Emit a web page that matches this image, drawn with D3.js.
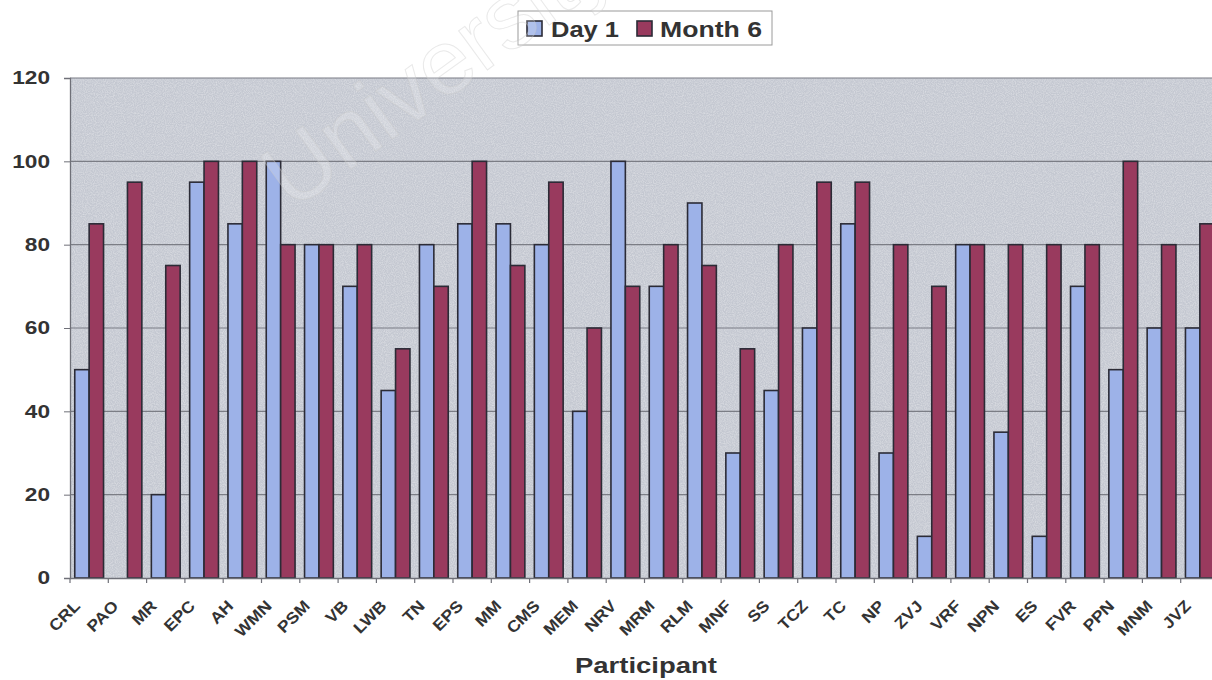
<!DOCTYPE html>
<html>
<head>
<meta charset="utf-8">
<script src="https://cdn.jsdelivr.net/npm/d3@7"></script>
<style>
  html, body { margin: 0; padding: 0; background: #fff; }
  svg { display: block; font-family: "Liberation Sans", Arial, sans-serif; }
</style>
</head>
<body>
<svg id="chart" width="1212" height="680"></svg>
<script>
// Participants and their scores on day 1 and at month 6
const participants = ["CRL","PAO","MR","EPC","AH","WMN","PSM","VB","LWB","TN","EPS","MM","CMS","MEM","NRV","MRM","RLM","MNF","SS","TCZ","TC","NP","ZVJ","VRF","NPN","ES","FVR","PPN","MNM","JVZ"];
const day1   = [50, 0, 20, 95, 85, 100, 80, 70, 45, 80, 85, 85, 80, 40, 100, 70, 90, 30, 45, 60, 85, 30, 10, 80, 35, 10, 70, 50, 60, 60];
const month6 = [85, 95, 75, 100, 100, 80, 80, 80, 55, 70, 100, 75, 95, 60, 70, 80, 75, 55, 80, 95, 95, 80, 70, 80, 80, 80, 80, 100, 80, 85];
const seriesNames = ["Day 1", "Month 6"];
const yTicks = [0, 20, 40, 60, 80, 100, 120];

const colors = { "Day 1": "#9db2e8", "Month 6": "#993a5e" };
const textColor = "#333";

// Widen bold labels horizontally (the chart's lettering is set wide)
function widen(sel, k) {
  sel.each(function() {
    const w = this.getComputedTextLength();
    d3.select(this).attr("textLength", w * k).attr("lengthAdjust", "spacingAndGlyphs");
  });
}

const svg = d3.select("#chart");
const plot = { left: 70, top: 78, bottom: 578, catWidth: 38.3 };
plot.right = plot.left + plot.catWidth * participants.length;

const x = d3.scaleBand().domain(participants).range([plot.left, plot.right]).paddingInner(0).paddingOuter(0);
const xSeries = d3.scaleBand().domain(seriesNames).range([0, x.bandwidth()]).paddingInner(0).paddingOuter(0.33);
const y = d3.scaleLinear().domain([0, 120]).range([plot.bottom, plot.top]);

// Textured grey plot background
const defs = svg.append("defs");
const filt = defs.append("filter").attr("id", "grain").attr("x", 0).attr("y", 0).attr("width", 1).attr("height", 1);
filt.append("feTurbulence").attr("type", "fractalNoise").attr("baseFrequency", 0.9).attr("numOctaves", 2).attr("seed", 3).attr("result", "noise");
filt.append("feColorMatrix").attr("in", "noise").attr("type", "matrix")
  .attr("values", "0 0 0 0 1  0 0 0 0 1  0 0 0 0 1  0 0 0 0.6 -0.2").attr("result", "specks");
filt.append("feComposite").attr("in", "specks").attr("in2", "SourceGraphic").attr("operator", "in").attr("result", "sp2");
const merge = filt.append("feMerge");
merge.append("feMergeNode").attr("in", "SourceGraphic");
merge.append("feMergeNode").attr("in", "sp2");

svg.append("rect")
  .attr("x", plot.left).attr("y", plot.top)
  .attr("width", plot.right - plot.left).attr("height", plot.bottom - plot.top)
  .attr("fill", "#c4c8d1")
  .attr("filter", "url(#grain)");

// Horizontal gridlines
svg.append("g")
  .selectAll("line")
  .data(yTicks.filter(d => d > 0))
  .join("line")
  .attr("x1", plot.left).attr("x2", plot.right)
  .attr("y1", d => y(d)).attr("y2", d => y(d))
  .attr("stroke", "#7b7d85").attr("stroke-width", 1.2);

// Bars
const groups = svg.append("g")
  .selectAll("g")
  .data(participants.map((p, i) => ({ p, vals: [day1[i], month6[i]] })))
  .join("g")
  .attr("transform", d => `translate(${x(d.p)},0)`);

groups.selectAll("rect")
  .data(d => d.vals.map((v, k) => ({ s: seriesNames[k], v })))
  .join("rect")
  .attr("x", d => xSeries(d.s))
  .attr("y", d => y(d.v))
  .attr("width", xSeries.bandwidth())
  .attr("height", d => plot.bottom - y(d.v))
  .attr("fill", d => colors[d.s])
  .attr("stroke", "#2b2b36")
  .attr("stroke-width", d => d.v > 0 ? 1.6 : 0);

// Y axis
const yAxis = svg.append("g")
  .attr("transform", `translate(${plot.left},0)`)
  .call(d3.axisLeft(y).tickValues(yTicks).tickSize(6).tickPadding(14));
yAxis.select(".domain").attr("stroke", "#6f7078").attr("stroke-width", 1.3);
yAxis.selectAll(".tick line").attr("stroke", "#6f7078");
yAxis.selectAll(".tick text")
  .attr("font-size", 18.6).attr("font-weight", "bold").attr("fill", textColor)
  .attr("font-family", "'Liberation Sans', Arial, sans-serif")
  .call(widen, 1.22);

// X axis baseline and category boundary ticks
const xAxis = svg.append("g")
  .attr("transform", `translate(0,${plot.bottom})`)
  .call(d3.axisBottom(x).tickSize(0).tickFormat(""));
xAxis.select(".domain").attr("stroke", "#6f7078").attr("stroke-width", 1.3);
svg.append("g")
  .selectAll("line")
  .data(participants)
  .join("line")
  .attr("x1", d => x(d)).attr("x2", d => x(d))
  .attr("y1", plot.bottom).attr("y2", plot.bottom + 5)
  .attr("stroke", "#6f7078").attr("stroke-width", 1.2);

// Rotated participant labels, slightly widened along their baseline
svg.append("g")
  .selectAll("text")
  .data(participants)
  .join("text")
  .attr("transform", d => `translate(${x(d) + x.bandwidth() / 2 - 8},${plot.bottom + 29}) rotate(-45) scale(1.1,1)`)
  .attr("text-anchor", "end")
  .attr("font-size", 16).attr("font-weight", "bold").attr("fill", textColor)
  .text(d => d);

// Axis title
svg.append("text")
  .attr("x", 646).attr("y", 673)
  .attr("text-anchor", "middle")
  .attr("font-size", 22).attr("font-weight", "bold").attr("fill", textColor)
  .attr("textLength", 142).attr("lengthAdjust", "spacingAndGlyphs")
  .text("Participant");

// Legend
const legend = svg.append("g");
legend.append("rect")
  .attr("x", 518).attr("y", 11).attr("width", 254).attr("height", 34)
  .attr("fill", "#fff").attr("stroke", "#9a9a9a").attr("stroke-width", 1);
const legendItems = [
  { s: "Day 1", sx: 527, tx: 551, w: 68 },
  { s: "Month 6", sx: 637, tx: 660, w: 102 }
];
legend.selectAll("g.item")
  .data(legendItems)
  .join("g")
  .attr("class", "item")
  .each(function(d) {
    const g = d3.select(this);
    g.append("rect")
      .attr("x", d.sx).attr("y", 21).attr("width", 15).attr("height", 15)
      .attr("fill", colors[d.s]).attr("stroke", "#2b2b36").attr("stroke-width", 1.6);
    g.append("text")
      .attr("x", d.tx).attr("y", 37)
      .attr("font-size", 22).attr("font-weight", "bold").attr("fill", textColor)
      .attr("textLength", d.w).attr("lengthAdjust", "spacingAndGlyphs")
      .text(d.s);
  });

// Faint diagonal watermark
svg.append("text")
  .attr("transform", "translate(292,212) rotate(-36)")
  .attr("font-size", 92)
  .attr("font-family", "'Liberation Sans', Arial, sans-serif")
  .attr("fill", "#ffffff").attr("fill-opacity", 0.2)
  .attr("stroke", "#c8c8c8").attr("stroke-opacity", 0.4).attr("stroke-width", 1)
  .text("University of Cape Town");
</script>
</body>
</html>
